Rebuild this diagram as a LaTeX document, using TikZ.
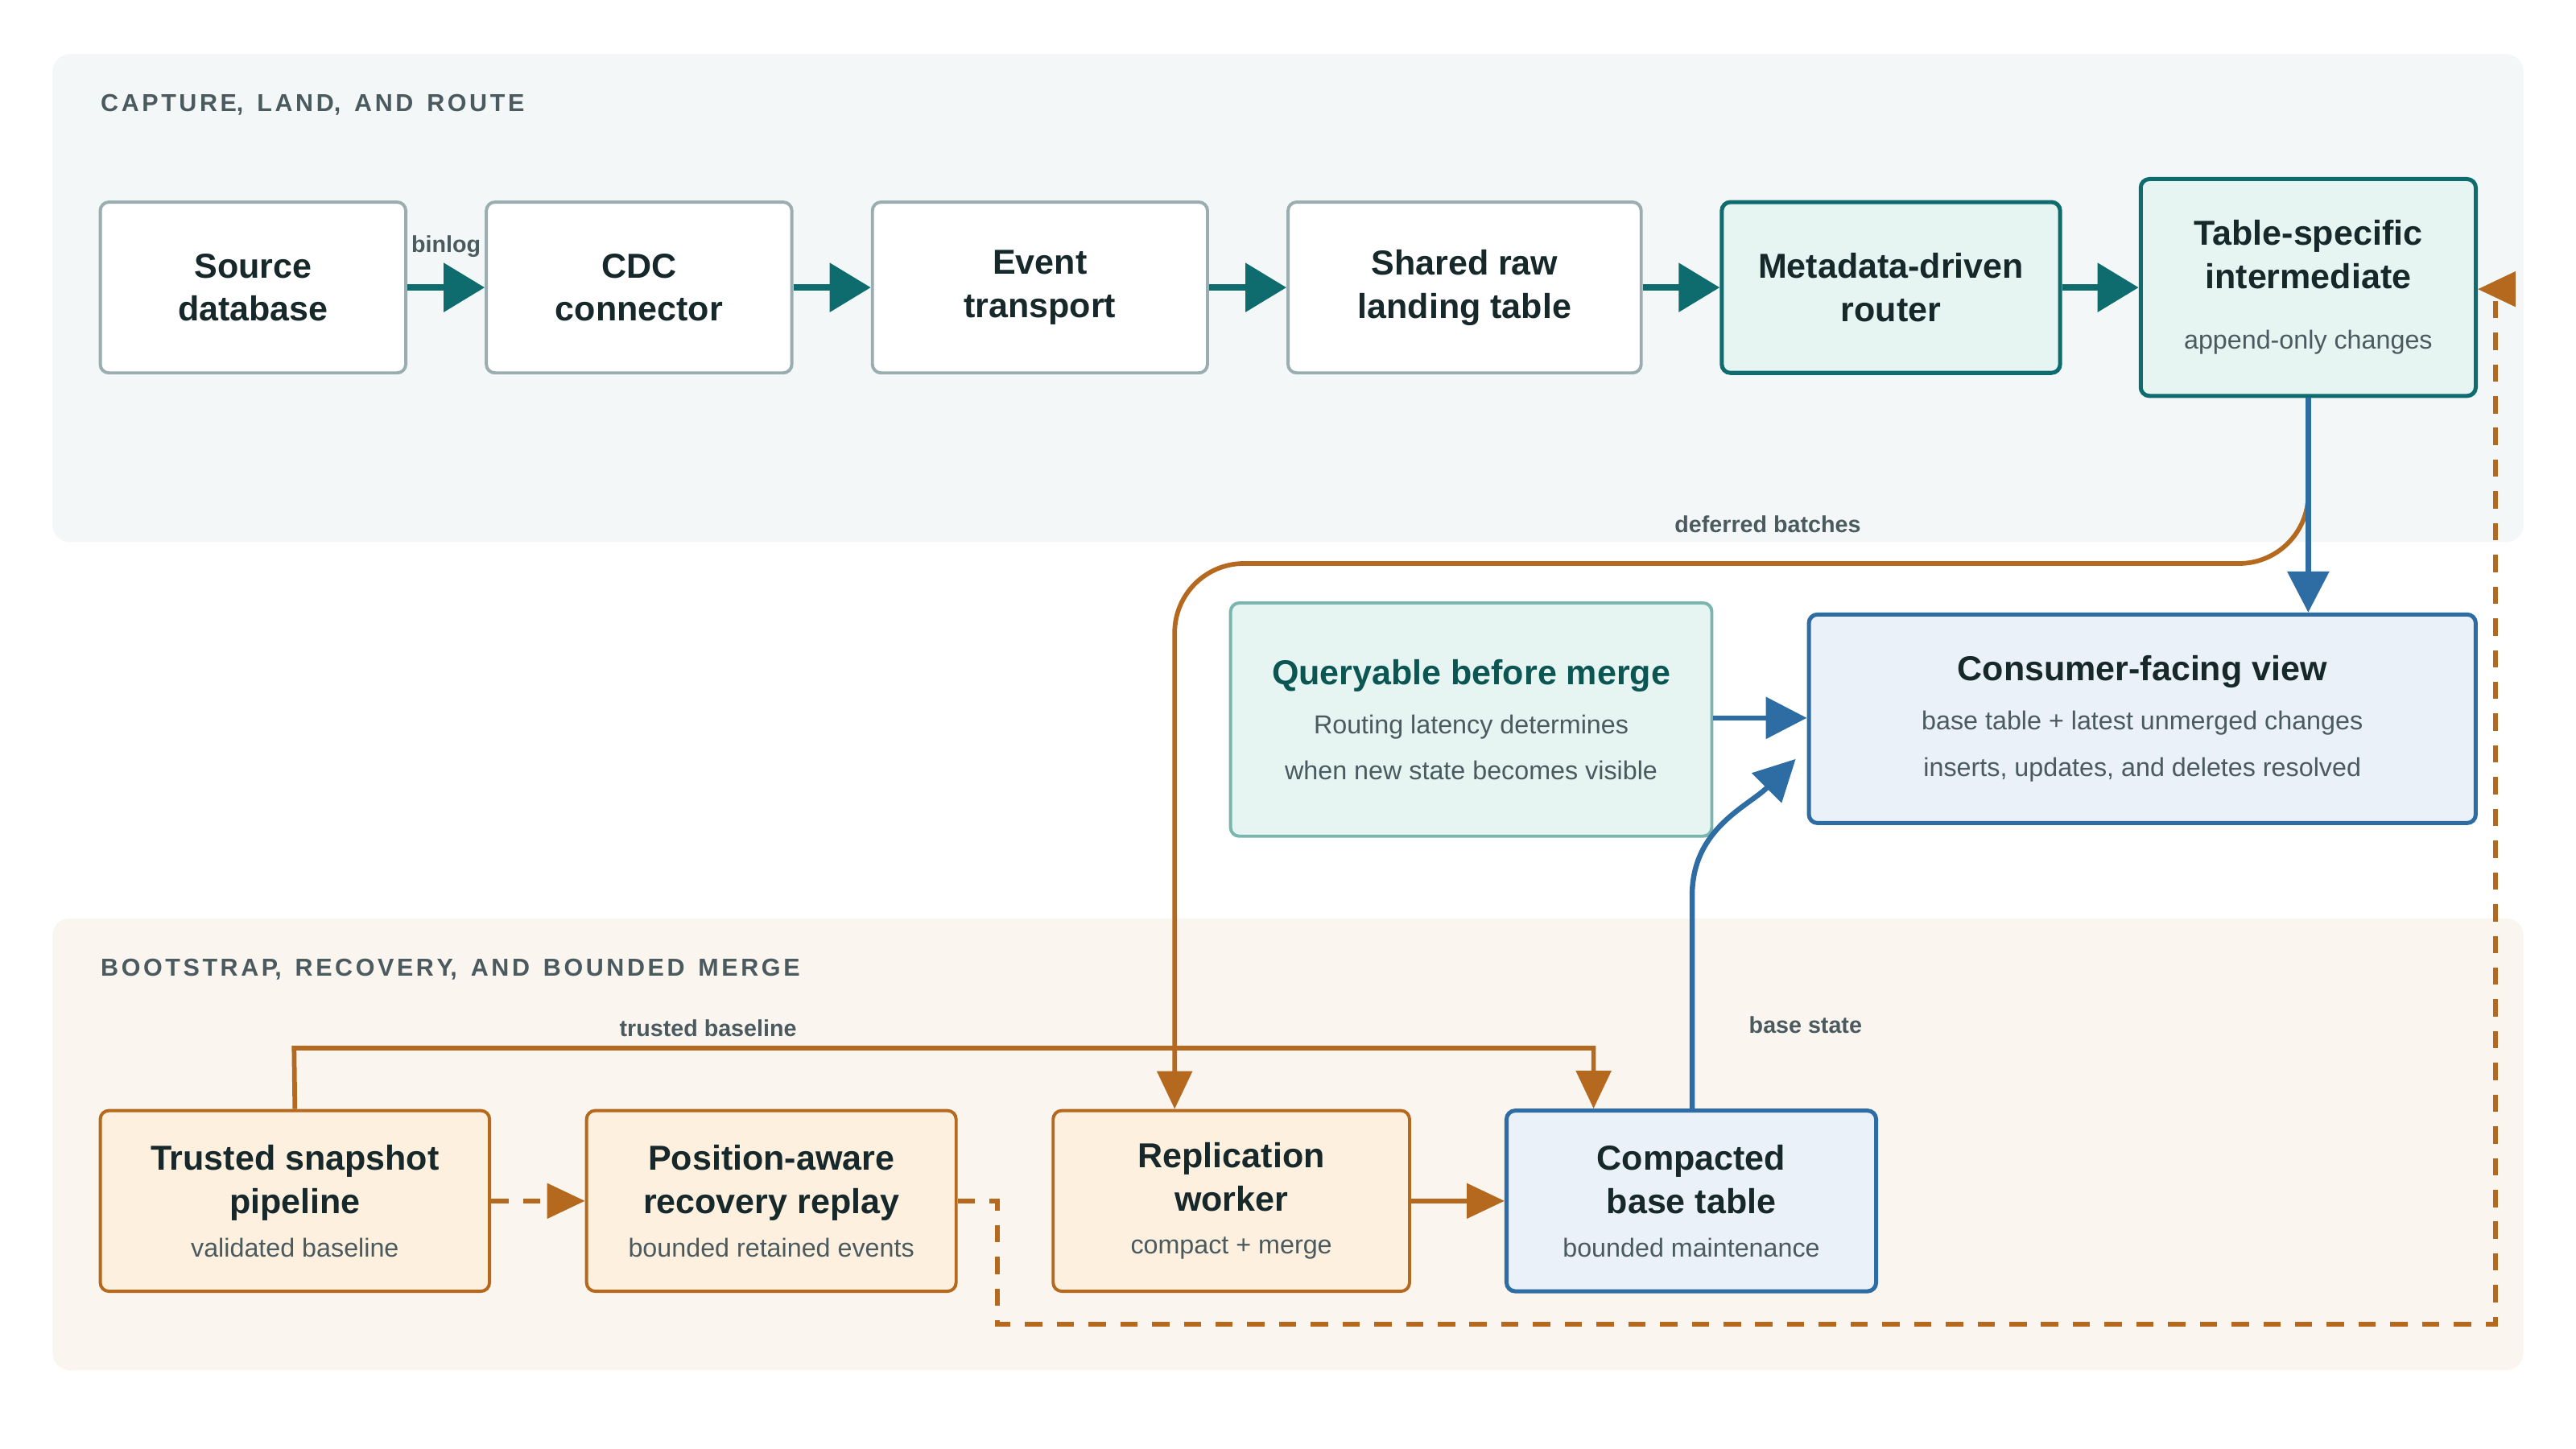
\documentclass[tikz,border=0pt]{standalone}
\usepackage{fontspec}
\setmainfont{Liberation Sans}
\usetikzlibrary{arrows.meta}
\definecolor{cTeal}{HTML}{0E6B6E}
\definecolor{cTealFill}{HTML}{E6F4F2}
\definecolor{cTealSoft}{HTML}{7AB5AE}
\definecolor{cTealText}{HTML}{0B5552}
\definecolor{cBlue}{HTML}{2E6DA4}
\definecolor{cBlueFill}{HTML}{EAF1F8}
\definecolor{cOrange}{HTML}{B5691E}
\definecolor{cOrangeFill}{HTML}{FDF0DE}
\definecolor{cGrayLine}{HTML}{9AAEB2}
\definecolor{cText}{HTML}{17282B}
\definecolor{cSub}{HTML}{4A5A5E}
\definecolor{cBandTop}{HTML}{F3F7F7}
\definecolor{cBandBot}{HTML}{FAF5EF}
\tikzset{
  box/.style={draw=cGrayLine, line width=1.1pt, fill=white, rounded corners=3pt,
    minimum height=2.08cm, align=center, text=cText, font=\fontsize{12}{15}\selectfont\bfseries, inner sep=2pt},
  tealbox/.style={box, draw=cTeal, fill=cTealFill, line width=1.4pt},
  orangebox/.style={box, draw=cOrange, fill=cOrangeFill, minimum height=2.2cm},
  bluebox/.style={box, draw=cBlue, fill=cBlueFill, line width=1.4pt},
  flow/.style={line width=2.4pt, draw=cTeal, -{Triangle[length=0.5cm, width=0.58cm]}},
  bflow/.style={line width=1.8pt, draw=cBlue, -{Triangle[length=0.5cm, width=0.5cm]}},
  oflow/.style={line width=1.6pt, draw=cOrange, -{Triangle[length=0.46cm, width=0.42cm]}},
  lbl/.style={font=\fontsize{8}{10}\selectfont\bfseries, text=cSub},
  hdr/.style={font=\fontsize{8.5}{10}\selectfont\bfseries, text=cSub, anchor=west, inner sep=0pt}
}
\newcommand{\Sub}[1]{{\fontsize{9}{10}\selectfont\mdseries\color{cSub}#1}}
\begin{document}
\begin{tikzpicture}[x=0.02cm, y=-0.02cm]
\useasboundingbox[fill=white] (0,0) rectangle (1568,882);
% bands
\fill[cBandTop, rounded corners=6pt] (32,33) rectangle (1536,330);
\fill[cBandBot, rounded corners=6pt] (32,559) rectangle (1536,834);
\node[hdr] (hTop) at (61,64) {C\kern1pt A\kern1pt P\kern1pt T\kern1pt U\kern1pt R\kern1pt E,\ \ L\kern1pt A\kern1pt N\kern1pt D,\ \ A\kern1pt N\kern1pt D\ \ R\kern1pt O\kern1pt U\kern1pt T\kern1pt E};
\node[hdr] (hBot) at (61,590) {B\kern1pt O\kern1pt O\kern1pt T\kern1pt S\kern1pt T\kern1pt R\kern1pt A\kern1pt P,\ \ R\kern1pt E\kern1pt C\kern1pt O\kern1pt V\kern1pt E\kern1pt R\kern1pt Y,\ \ A\kern1pt N\kern1pt D\ \ B\kern1pt O\kern1pt U\kern1pt N\kern1pt D\kern1pt E\kern1pt D\ \ M\kern1pt E\kern1pt R\kern1pt G\kern1pt E};
% capture row
\node[box, minimum width=3.72cm] (src) at (154,175) {Source\\database};
\node[box, minimum width=3.72cm] (cdc) at (389,175) {CDC\\connector};
\node[box, minimum width=4.08cm] (evt) at (633,175) {Event\\transport};
\node[box, minimum width=4.30cm] (raw) at (891.5,175) {Shared raw\\landing table};
\node[tealbox, minimum width=4.12cm] (rtr) at (1151,175) {Metadata-driven\\router};
\node[tealbox, minimum width=4.08cm, minimum height=2.64cm] (tsi) at (1405,175) {Table-specific\\intermediate\\[6pt]\Sub{append-only changes}};
% middle
\node[box, draw=cTealSoft, fill=cTealFill, minimum width=5.86cm, minimum height=2.84cm, text=cTealText] (qbm) at (895.5,438)
  {Queryable before merge\\[2pt]\Sub{Routing latency determines}\\[1pt]\Sub{when new state becomes visible}};
\node[bluebox, minimum width=8.12cm, minimum height=2.54cm] (cfv) at (1304,437.5)
  {Consumer-facing view\\[2pt]\Sub{base table + latest unmerged changes}\\[1pt]\Sub{inserts, updates, and deletes resolved}};
% bootstrap row
\node[orangebox, minimum width=4.74cm] (snap) at (179.5,731) {Trusted snapshot\\pipeline\\[0pt]\Sub{validated baseline}};
\node[orangebox, minimum width=4.50cm] (rply) at (469.5,731) {Position-aware\\recovery replay\\[0pt]\Sub{bounded retained events}};
\node[orangebox, minimum width=4.34cm] (wrk) at (749.5,731) {Replication\\worker\\[0pt]\Sub{compact + merge}};
\node[bluebox, minimum width=4.50cm, minimum height=2.2cm] (base) at (1029.5,731) {Compacted\\base table\\[0pt]\Sub{bounded maintenance}};
% capture flow
\draw[flow] (src) -- (cdc) node[lbl, midway, above=6pt] {binlog};
\draw[flow] (cdc) -- (evt);
\draw[flow] (evt) -- (raw);
\draw[flow] (raw) -- (rtr);
\draw[flow] (rtr) -- (tsi);
% routing to view and worker
\draw[oflow, rounded corners=24pt] (tsi.south) -- (1405,343) -- (715,343) -- (wrk.north -| 715,0);
\node[lbl] (lDef) at (1076,319) {deferred batches};
\draw[bflow] (tsi.south) -- (cfv.north -| tsi.south);
\draw[bflow] (qbm.east |- 0,437) -- (cfv.west |- 0,437);
\draw[bflow] (base.north -| 1030,0) -- (1030,545) to[out=90, in=225] (1093,462);
\node[lbl] (lBase) at (1099,624) {base state};
% bootstrap flow
\draw[oflow] (snap.north) -- (179,638) -- (970,638) -- (base.north -| 970,0);
\node[lbl] (lTrust) at (431,626) {trusted baseline};
\draw[oflow, dashed, dash pattern=on 6pt off 5pt] (snap) -- (rply);
\draw[oflow] (wrk) -- (base);
\draw[oflow, dashed, dash pattern=on 6pt off 5pt] (rply.east) -- (607,731) -- (607,806) -- (1519,806) -- (1519,176) -- (tsi.east |- 0,176);
\end{tikzpicture}
\end{document}
